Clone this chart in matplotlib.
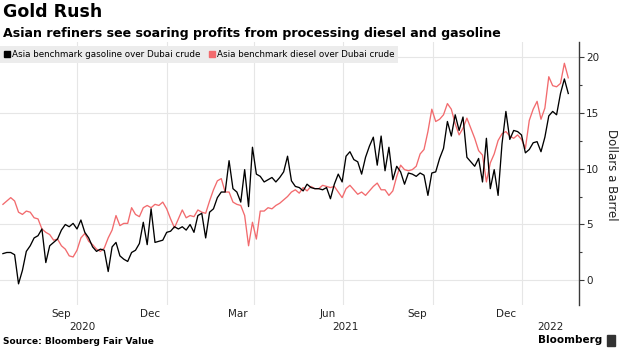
import matplotlib
matplotlib.use("Agg")
import matplotlib.pyplot as plt
import matplotlib.dates as mdates
import matplotlib.transforms as mtransforms
from matplotlib.lines import Line2D
from matplotlib.patches import Rectangle
import pandas as pd

# crack spreads, sampled every 4 days, $/bbl
dates = pd.date_range("2020-07-17", periods=146, freq="4D")

gasoline = [
    2.4, 2.5, 2.5, 2.3, -0.3, 0.9, 2.6, 3.1, 3.8, 4.0,
    4.6, 1.6, 3.1, 3.4, 3.7, 4.5, 5.0, 4.8, 5.1, 4.6,
    5.4, 4.3, 3.8, 3.0, 2.6, 2.8, 2.7, 0.8, 3.0, 3.4,
    2.2, 1.9, 1.7, 2.5, 2.7, 3.3, 5.2, 3.2, 6.4, 3.4,
    3.5, 3.6, 4.3, 4.4, 4.8, 4.6, 4.8, 4.5, 5.0, 4.3,
    5.8, 6.0, 3.8, 6.1, 6.4, 7.4, 7.9, 7.9, 10.7, 8.2,
    7.9, 7.0, 9.9, 6.6, 11.9, 9.5, 9.3, 8.8, 9.0, 9.2,
    8.8, 9.2, 9.7, 11.1, 8.9, 8.4, 8.3, 8.0, 8.6, 8.3,
    8.2, 8.2, 8.1, 8.3, 7.3, 8.6, 9.5, 8.8, 11.1, 11.5,
    10.8, 10.6, 9.5, 11.0, 12.0, 12.8, 10.3, 12.9, 9.8, 11.9,
    9.0, 10.2, 9.7, 8.6, 9.6, 9.5, 9.3, 9.6, 9.4, 7.6,
    9.6, 9.7, 10.9, 11.8, 14.2, 12.9, 14.8, 13.4, 14.6, 11.0,
    10.6, 10.2, 10.9, 8.8, 12.7, 8.2, 9.9, 7.6, 12.2, 15.1,
    12.6, 13.4, 13.3, 13.0, 11.4, 11.7, 12.3, 12.4, 11.5, 12.8,
    14.7, 15.1, 14.8, 16.7, 18.0, 16.7,
]

diesel = [
    6.8, 7.1, 7.4, 7.1, 6.1, 5.9, 6.2, 6.1, 5.6, 5.5,
    4.6, 4.3, 4.1, 3.6, 3.7, 3.1, 2.8, 2.2, 2.1, 2.7,
    3.8, 4.2, 3.5, 3.2, 2.8, 2.6, 2.9, 3.8, 4.5, 5.8,
    4.9, 5.1, 5.1, 6.5, 5.9, 5.7, 6.5, 6.7, 6.5, 6.8,
    6.7, 7.0, 6.4, 5.5, 4.7, 5.5, 6.3, 5.6, 5.8, 5.7,
    6.3, 6.1, 6.0, 7.1, 8.1, 8.9, 9.1, 7.9, 7.9, 7.0,
    6.8, 6.7, 5.8, 3.1, 5.2, 3.7, 6.2, 6.2, 6.5, 6.4,
    6.7, 6.9, 7.2, 7.5, 7.9, 8.1, 7.8, 8.3, 8.0, 8.4,
    8.2, 8.2, 8.5, 8.4, 8.3, 8.4, 7.9, 7.4, 8.2, 8.5,
    8.1, 7.7, 7.9, 7.6, 8.0, 8.4, 8.7, 8.1, 8.1, 7.6,
    8.0, 9.3, 10.3, 9.9, 9.8, 9.9, 10.2, 11.3, 11.7, 13.3,
    15.3, 14.2, 14.4, 14.8, 15.8, 15.3, 14.0, 13.0, 13.6, 14.5,
    13.6, 12.7, 11.6, 11.2, 8.8, 10.5, 11.3, 12.5, 13.1, 13.3,
    12.9, 12.7, 13.0, 12.6, 11.8, 14.3, 15.3, 16.0, 14.4, 15.4,
    18.2, 17.4, 17.3, 17.6, 19.4, 18.1,
]

series_names = [
    "Asia benchmark gasoline over Dubai crude",
    "Asia benchmark diesel over Dubai crude",
]

month_tick_dates = ["2020-09-15", "2020-12-15", "2021-03-15",
                    "2021-06-15", "2021-09-15", "2021-12-15"]
month_tick_labels = ["Sep", "Dec", "Mar", "Jun", "Sep", "Dec"]
year_label_dates = ["2020-10-07", "2021-07-03", "2022-01-30"]
year_labels = ["2020", "2021", "2022"]

BLACK = "#000000"
RED = "#f26b6e"
GRID = "#e6e6e6"
AXIS = "#3a3a3a"

W, H = 620, 348
fig = plt.figure(figsize=(W / 100, H / 100), dpi=100)
ax = fig.add_axes([0, 1 - 305 / H, 579 / W, (305 - 42) / H])

ax.plot(dates, diesel, color=RED, lw=0.95, zorder=3)
ax.plot(dates, gasoline, color=BLACK, lw=0.95, zorder=4)

ax.set_xlim(pd.Timestamp("2020-07-14"), pd.Timestamp("2022-02-28"))
ax.set_ylim(-2.19, 21.3)

for s in ("top", "left", "bottom"):
    ax.spines[s].set_visible(False)
ax.spines["right"].set_color(AXIS)
ax.spines["right"].set_linewidth(1.0)

ax.yaxis.tick_right()
ax.set_yticks([0, 5, 10, 15, 20])
ax.set_yticks([2.5, 7.5, 12.5, 17.5], minor=True)
ax.tick_params(axis="y", which="major", length=3.5, width=0.8, color=AXIS,
               labelsize=7.5, labelcolor="#222222", pad=1.5)
ax.tick_params(axis="y", which="minor", length=2.5, width=0.8, color=AXIS)

# quarter boundaries carry the vertical grid, month names sit mid-month
ax.xaxis.set_major_locator(mdates.MonthLocator(bymonth=[1, 4, 7, 10]))
ax.xaxis.set_major_formatter(plt.NullFormatter())
ax.set_xticks(pd.to_datetime(month_tick_dates), minor=True)
ax.set_xticklabels(month_tick_labels, minor=True)
ax.tick_params(axis="x", which="both", length=0, labelsize=7.5,
               labelcolor="#222222", pad=3)

ax.grid(True, which="major", axis="both", color=GRID, lw=0.8, zorder=0)
ax.set_axisbelow(True)

trans = mtransforms.blended_transform_factory(ax.transData, ax.transAxes)
for d, lab in zip(year_label_dates, year_labels):
    ax.text(pd.Timestamp(d), -0.084, lab, transform=trans, ha="center",
            va="center", fontsize=7.5, color="#222222")

fig.text(611 / W, 1 - 175 / H, "Dollars a Barrel", rotation=270,
         ha="center", va="center", fontsize=8.5, color="#222222")

fig.text(3 / W, 1 - 12 / H, "Gold Rush", fontsize=12.5, fontweight="bold",
         va="center", ha="left")
fig.text(3 / W, 1 - 33 / H,
         "Asian refiners see soaring profits from processing diesel and gasoline",
         fontsize=9.1, fontweight="bold", va="center", ha="left")

handles = [Line2D([], [], marker="s", ls="none", color=c, markersize=4.5)
           for c in (BLACK, RED)]
leg = fig.legend(handles, series_names, loc="upper left",
                 bbox_to_anchor=(0, 1 - 46 / H), ncol=2, frameon=True,
                 fontsize=6.3, handlelength=0.6, handletextpad=0.3,
                 columnspacing=1.0, borderpad=0.45, borderaxespad=0)
frame = leg.get_frame()
frame.set_facecolor("#ececec")
frame.set_edgecolor("none")
frame.set_boxstyle("square", pad=0)
frame.set_alpha(1)

fig.text(3 / W, 1 - 341 / H, "Source: Bloomberg Fair Value", fontsize=6.5,
         fontweight="bold", va="center", ha="left")
fig.text(602 / W, 1 - 340 / H, "Bloomberg", fontsize=7.5, fontweight="bold",
         va="center", ha="right")
fig.patches.append(Rectangle((607 / W, 1 - 346 / H), 8 / W, 11 / H,
                             transform=fig.transFigure, color="#333333"))

fig.savefig("out.png", dpi=100)
